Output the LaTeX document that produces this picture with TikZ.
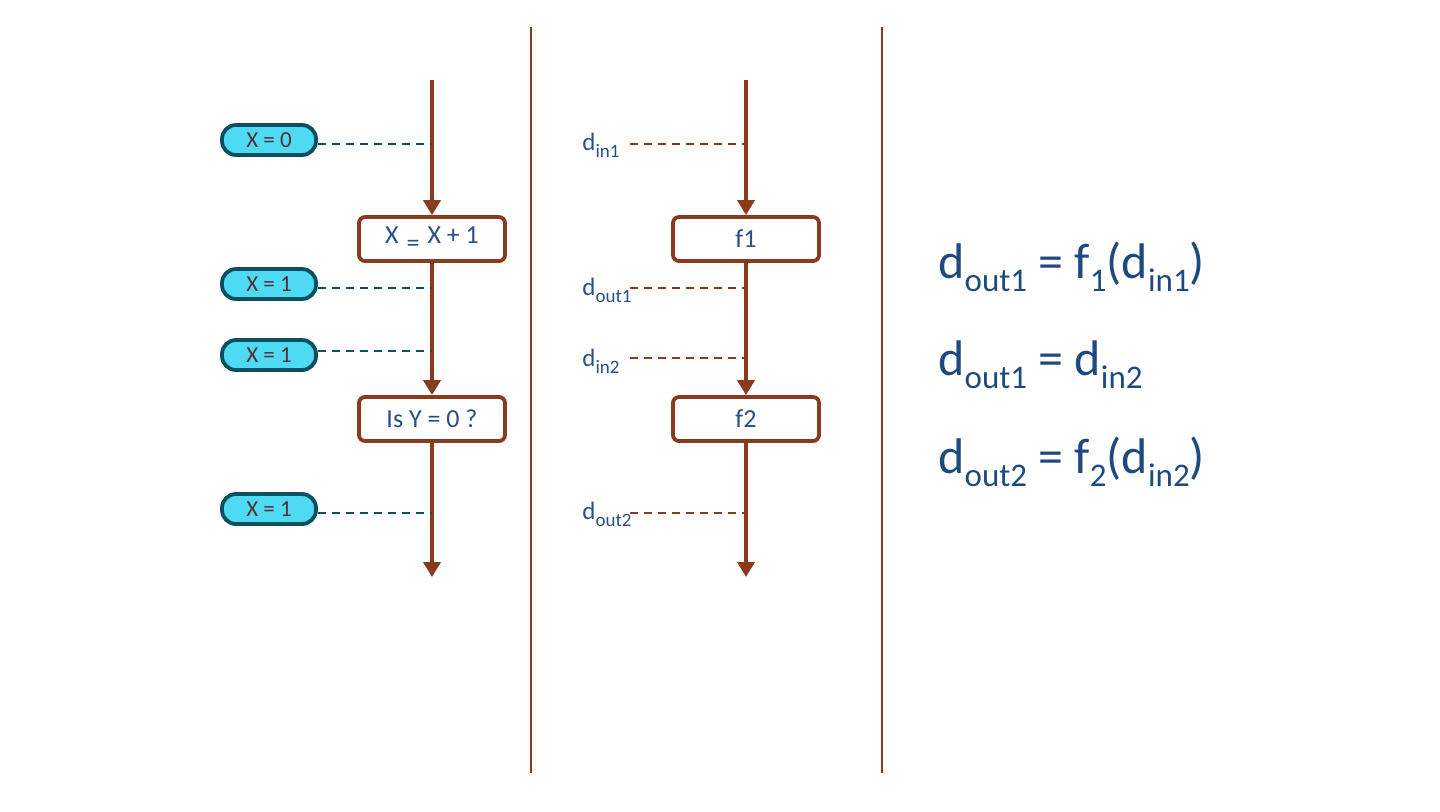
\documentclass[tikz,border=0pt]{standalone}
\usepackage{fontspec}
\setmainfont{Carlito}
\usetikzlibrary{arrows.meta}
\definecolor{brn}{HTML}{8B3A1E}
\definecolor{txtb}{HTML}{2A4F8A}
\definecolor{eqb}{HTML}{1F4A80}
\definecolor{pillf}{HTML}{4DDAF2}
\definecolor{pilld}{HTML}{0C4F5E}
\definecolor{pillt}{HTML}{503030}
\newcommand\lsub[1]{\raisebox{-3.5pt}{\fontsize{9.5}{9.5}\selectfont #1}}
\newcommand\esub[1]{\raisebox{-6.5pt}{\fontsize{16.5}{16.5}\selectfont #1}}
\begin{document}
\begin{tikzpicture}[x=0.5pt,y=-0.5pt,
  flow/.style={brn, line width=2pt, -{Triangle[width=8.5pt,length=7.5pt]}},
  sep/.style={brn, line width=0.8pt},
  stepbox/.style={draw=brn, line width=1.9pt, rounded corners=3pt, minimum width=73pt, minimum height=22pt, inner sep=0pt, text=txtb, font=\fontsize{13}{13}\selectfont},
  pill/.style={draw=pilld, fill=pillf, line width=1.9pt, rounded corners=7pt, minimum width=47pt, minimum height=15pt, inner sep=0pt, text=pillt, font=\fontsize{11.5}{11.5}\selectfont},
  dthick/.style={line width=1.1pt, dash pattern=on 4pt off 3pt},
  dthin/.style={line width=0.55pt, dash pattern=on 4pt off 3pt},
  lab/.style={anchor=base west, inner sep=0pt, text=txtb, font=\fontsize{12.5}{12.5}\selectfont},
  eq/.style={anchor=base west, inner sep=0pt, text=eqb, font=\fontsize{25}{25}\selectfont}
]
\useasboundingbox (0,0) rectangle (1440,811);
% separators
\coordinate (s1t) at (531,27); \coordinate (s1b) at (531,773);
\coordinate (s2t) at (882,27); \coordinate (s2b) at (882,773);
\draw[sep] (s1t) -- (s1b);
\draw[sep] (s2t) -- (s2b);

% left flow
\coordinate (lt) at (432,80);
\node[stepbox] (b1) at (432,239) {X\hspace{4pt}\raisebox{-4pt}{\fontsize{13}{13}\selectfont =}\hspace{4pt}X + 1};
\node[stepbox] (b2) at (432,419) {Is Y = 0 ?};
\coordinate (lb) at (432,577);
\draw[flow] (lt) -- (b1.north);
\draw[flow] (b1.south) -- (b2.north);
\draw[flow] (b2.south) -- (lb);

% pills
\node[pill] (p1) at (269,140) {X = 0};
\node[pill] (p2) at (269,284) {X = 1};
\node[pill] (p3) at (269,355) {X = 1};
\node[pill] (p4) at (269,509) {X = 1};
\foreach \i/\y in {1/144,2/288,3/351,4/513}{
  \coordinate (lc\i) at (432,\y);
  \coordinate (lm\i) at (375,\y);
  \draw[pilld,dthin] (p\i.east |- lc\i) -- (lc\i);
  \draw[pilld,dthick] (p\i.east |- lc\i) -- (lm\i);
}

% middle flow
\coordinate (mt) at (746,80);
\node[stepbox] (f1) at (746,239) {f1};
\node[stepbox] (f2) at (746,419) {f2};
\coordinate (mb) at (746,577);
\draw[flow] (mt) -- (f1.north);
\draw[flow] (f1.south) -- (f2.north);
\draw[flow] (f2.south) -- (mb);

% middle labels
\node[lab] (d1) at (582,150) {d\lsub{in1}};
\node[lab] (d2) at (582,295) {d\lsub{out1}};
\node[lab] (d3) at (582,366) {d\lsub{in2}};
\node[lab] (d4) at (582,519) {d\lsub{out2}};
\foreach \i/\y in {1/144,2/288,3/358,4/513}{
  \coordinate (ms\i) at (630,\y);
  \coordinate (mm\i) at (690,\y);
  \coordinate (mc\i) at (746,\y);
  \draw[brn,dthin] (ms\i) -- (mc\i);
  \draw[brn,dthick] (ms\i) -- (mm\i);
}

% equations
\node[eq] (e1) at (938,278) {d\esub{out1} = f\esub{1}(d\esub{in1})};
\node[eq] (e2) at (938,375) {d\esub{out1} = d\esub{in2}};
\node[eq] (e3) at (938,473) {d\esub{out2} = f\esub{2}(d\esub{in2})};
\end{tikzpicture}
\end{document}
